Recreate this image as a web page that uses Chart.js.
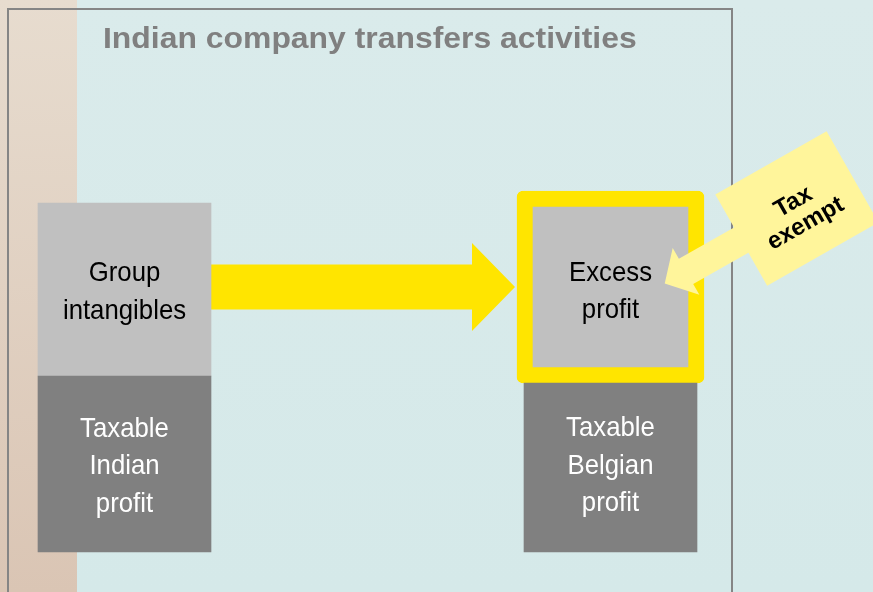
<!DOCTYPE html>
<html>
<head>
<meta charset="utf-8">
<script src="https://cdn.jsdelivr.net/npm/chart.js@4.4.1/dist/chart.umd.min.js"></script>
<style>
  html, body { margin: 0; padding: 0; background: #d8eaea; overflow: hidden; }
  #wrap { width: 873px; height: 592px; }
</style>
</head>
<body>
<div id="wrap"><canvas id="diagram" width="873" height="592"></canvas></div>
<script>
// data (bar heights, same unit for both companies)
var categories = ['Indian company', 'Transfer', 'Belgian company'];
var taxableProfit = [176, null, 169];
var groupIntangibles = [173, null, null];
var excessProfit = [null, null, 192];

var taxableText = [['Taxable', 'Indian', 'profit'], null, ['Taxable', 'Belgian', 'profit']];
var intangiblesText = [['Group', 'intangibles'], null, null];
var excessText = [null, null, ['Excess', 'profit']];

var chartTitle = 'Indian company transfers activities';
var noteText = ['Tax', 'exempt'];

function floating(values, below) {
  return values.map(function(v, i){
    if (v == null) return null;
    var start = below ? (below[i] || 0) : 0;
    return [start, start + v];
  });
}

function drawLines(ctx, lines, cx, cy, size, lh, sx, color, bold) {
  ctx.save();
  ctx.fillStyle = color;
  ctx.font = (bold ? 'bold ' : '') + size + 'px "Liberation Sans", Arial, sans-serif';
  ctx.textAlign = 'center';
  ctx.textBaseline = 'alphabetic';
  var first = cy - (lines.length - 1) / 2 * lh + size * 0.37;
  lines.forEach(function(t, i){
    ctx.save();
    ctx.translate(cx, first + i * lh);
    ctx.scale(sx, 1);
    ctx.fillText(t, 0, 0);
    ctx.restore();
  });
  ctx.restore();
}

var slidePlugin = {
  id: 'slide',
  beforeDraw: function(chart){
    var ctx = chart.ctx, w = chart.width, h = chart.height, area = chart.chartArea;
    ctx.save();
    var bg = ctx.createLinearGradient(0, 0, 0, h);
    bg.addColorStop(0, '#daebeb');
    bg.addColorStop(1, '#d5e9e9');
    ctx.fillStyle = bg;
    ctx.fillRect(0, 0, w, h);
    var strip = ctx.createLinearGradient(0, 0, 0, h);
    strip.addColorStop(0, '#e7dccf');
    strip.addColorStop(1, '#dac5b4');
    ctx.fillStyle = strip;
    ctx.fillRect(0, 0, 77, h);
    ctx.strokeStyle = '#858585';
    ctx.lineWidth = 2;
    ctx.strokeRect(8, 9, area.right - 8, h + 20);
    ctx.restore();
  },
  beforeDatasetsDraw: function(chart){
    // transfer arrow from the intangibles block to the excess profit box
    var ctx = chart.ctx;
    var src = chart.getDatasetMeta(1).data[0];
    var dst = chart.getDatasetMeta(2).data[2];
    var x0 = src.x + src.width / 2;
    var x1 = dst.x - dst.width / 2 - 2;
    var y = (dst.y + dst.base) / 2;
    var shaft = 22.5, head = 44, headLen = 43;
    ctx.save();
    ctx.fillStyle = '#ffe500';
    ctx.beginPath();
    ctx.moveTo(x0, y - shaft);
    ctx.lineTo(x1 - headLen, y - shaft);
    ctx.lineTo(x1 - headLen, y - head);
    ctx.lineTo(x1, y);
    ctx.lineTo(x1 - headLen, y + head);
    ctx.lineTo(x1 - headLen, y + shaft);
    ctx.lineTo(x0, y + shaft);
    ctx.closePath();
    ctx.fill();
    ctx.restore();
  },
  afterDatasetsDraw: function(chart){
    var ctx = chart.ctx;
    chart.data.datasets.forEach(function(ds, di){
      var meta = chart.getDatasetMeta(di);
      meta.data.forEach(function(el, i){
        var lines = ds.segText && ds.segText[i];
        if (!lines || ds.data[i] == null) return;
        var shift = (ds.textShift && ds.textShift[i]) || 0;
        drawLines(ctx, lines, el.x, (el.y + el.base) / 2 + shift, 28, 37.5, 0.92, ds.textColor, false);
      });
    });

    // title
    ctx.save();
    ctx.fillStyle = '#808080';
    ctx.font = 'bold 29px "Liberation Sans", Arial, sans-serif';
    ctx.textBaseline = 'alphabetic';
    ctx.translate(chart.chartArea.left + 100, 48);
    ctx.scale(1.1, 1);
    ctx.fillText(chartTitle, 0, 0);
    ctx.restore();

    // "Tax exempt" callout pointing into the excess profit box
    var box = chart.getDatasetMeta(2).data[2];
    var tipX = box.x + box.width * 0.29;
    var tipY = (box.y + box.base) / 2 - 3.5;
    var ang = -29.6 * Math.PI / 180;
    var reach = 152;
    ctx.save();
    ctx.translate(tipX + reach * Math.cos(ang), tipY + reach * Math.sin(ang));
    ctx.rotate(ang);
    ctx.fillStyle = '#fff59b';
    ctx.beginPath();
    ctx.moveTo(-64, -52.5);
    ctx.lineTo(64, -52.5);
    ctx.lineTo(64, 52.5);
    ctx.lineTo(-64, 52.5);
    ctx.lineTo(-64, 14.5);
    ctx.lineTo(-127.5, 14.5);
    ctx.lineTo(-127.5, 27);
    ctx.lineTo(-reach, 0);
    ctx.lineTo(-127.5, -27);
    ctx.lineTo(-127.5, -14.5);
    ctx.lineTo(-64, -14.5);
    ctx.closePath();
    ctx.fill();
    drawLines(ctx, noteText, 0, 3, 24, 25, 1, '#000000', true);
    ctx.restore();
  }
};

new Chart(document.getElementById('diagram'), {
  type: 'bar',
  data: {
    labels: categories,
    datasets: [
      { label: 'Taxable profit', data: floating(taxableProfit), backgroundColor: '#808080',
        barThickness: 173, segText: taxableText, textShift: [0, 0, -4], textColor: '#ffffff' },
      { label: 'Group intangibles', data: floating(groupIntangibles, taxableProfit), backgroundColor: '#c0c0c0',
        barThickness: 173, segText: intangiblesText, textColor: '#000000' },
      { label: 'Excess profit', data: floating(excessProfit, taxableProfit), backgroundColor: '#c0c0c0',
        borderColor: '#ffe500', borderWidth: 16, borderRadius: 6, barThickness: 187,
        segText: excessText, textShift: [0, 0, 2], textColor: '#000000' }
    ]
  },
  options: {
    responsive: false,
    animation: false,
    events: [],
    layout: { padding: { left: 3, right: 141, top: 0, bottom: 0 } },
    datasets: { bar: { grouped: false, borderSkipped: false } },
    plugins: { legend: { display: false }, tooltip: { enabled: false } },
    scales: {
      x: { display: false, offset: true },
      y: { display: false, min: -40, max: 552 }
    }
  },
  plugins: [slidePlugin]
});
</script>
</body>
</html>
